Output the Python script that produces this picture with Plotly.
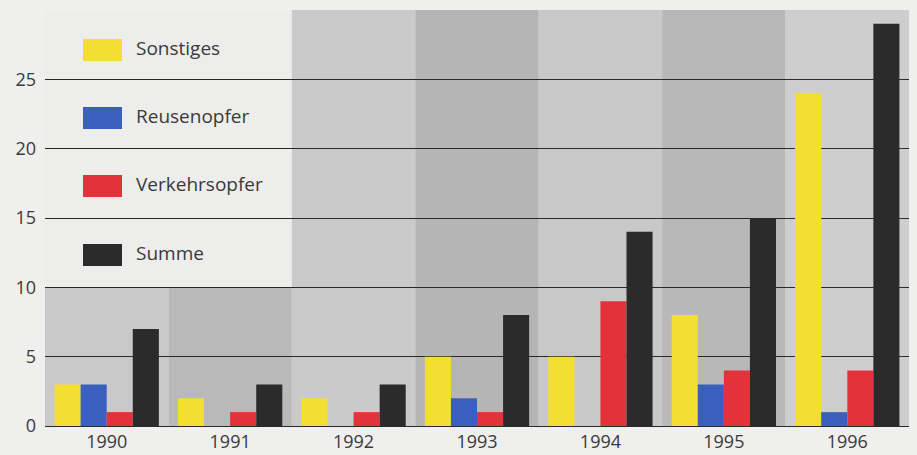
import plotly.graph_objects as go

# Data
years = ["1990", "1991", "1992", "1993", "1994", "1995", "1996"]
sonstiges = [3, 2, 2, 5, 5, 8, 24]
reusenopfer = [3, 0, 0, 2, 0, 3, 1]
verkehrsopfer = [1, 1, 1, 1, 9, 4, 4]
summe = [7, 3, 3, 8, 14, 15, 29]

series_names = ["Sonstiges", "Reusenopfer", "Verkehrsopfer", "Summe"]
series_values = [sonstiges, reusenopfer, verkehrsopfer, summe]
series_colors = ["#f3df32", "#3b5fbf", "#e2333b", "#2b2b2b"]
column_shades = ["#c9c9c9", "#b9b9b9", "#cacaca", "#b5b5b5", "#c8c8c8", "#b8b8b8", "#cecece"]

PAPER = "#efefed"
TEXT = "#3a3a3a"
FONT = "Open Sans"

fig = go.Figure()
for name, vals, col in zip(series_names, series_values, series_colors):
    fig.add_trace(go.Bar(x=years, y=vals, name=name, marker=dict(color=col, line=dict(width=0)),
                         showlegend=False))

# Alternating grey year columns behind the bars
shapes = []
for i, shade in enumerate(column_shades):
    shapes.append(dict(type="rect", layer="below", xref="x", yref="y",
                       x0=i - 0.5, x1=i + 0.5, y0=0, y1=30,
                       fillcolor=shade, line=dict(width=0)))
# Light panel holding the key in the upper-left corner
shapes.append(dict(type="rect", layer="below", xref="x", yref="y",
                   x0=-0.5, x1=1.5, y0=10, y1=30,
                   fillcolor="#ededeb", line=dict(width=0)))

# Key: swatches and labels (paper coordinates of the plot area)
plot_l, plot_r, plot_t, plot_b = 45, 909, 10, 426
W, H = plot_r - plot_l, plot_b - plot_t


def px(x):
    return (x - plot_l) / W


def py(y):
    return (plot_b - y) / H


annotations = []
key_tops = [39, 107, 175, 244]
for name, col, top in zip(series_names, series_colors, key_tops):
    shapes.append(dict(type="rect", layer="above", xref="paper", yref="paper",
                       x0=px(83), x1=px(122), y0=py(top + 22), y1=py(top),
                       fillcolor=col, line=dict(width=0)))
    annotations.append(dict(xref="paper", yref="paper", x=px(134), y=py(top + 9),
                            text=name, showarrow=False, xanchor="left", yanchor="middle",
                            font=dict(family=FONT, size=19, color=TEXT)))

fig.update_layout(
    width=917, height=455,
    margin=dict(l=plot_l, r=917 - plot_r, t=plot_t, b=455 - plot_b),
    paper_bgcolor=PAPER, plot_bgcolor=PAPER,
    barmode="group", bargap=0.155, bargroupgap=0,
    shapes=shapes, annotations=annotations,
    xaxis=dict(type="category", range=[-0.5, 6.5], showgrid=False, zeroline=False,
               ticks="", tickfont=dict(family=FONT, size=18, color=TEXT),
               ticklabelstandoff=3, showline=False, automargin=False),
    yaxis=dict(range=[0, 30], tickvals=[0, 5, 10, 15, 20, 25],
               showgrid=True, gridcolor="#2a2a2a", gridwidth=1.4,
               zeroline=True, zerolinecolor="#2a2a2a", zerolinewidth=1.4,
               ticks="", ticklabelstandoff=8, automargin=False,
               tickfont=dict(family=FONT, size=18, color=TEXT)),
    showlegend=False,
)

fig.write_html("out.html")
